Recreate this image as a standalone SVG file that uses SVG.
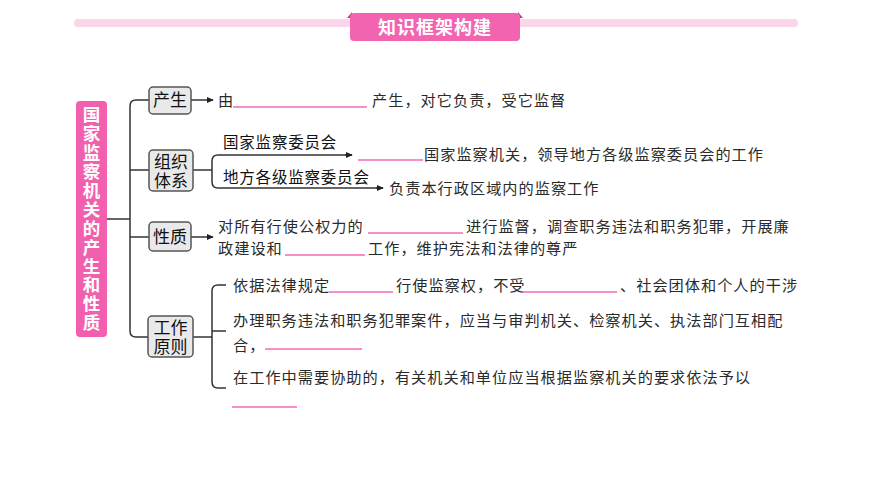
<svg xmlns="http://www.w3.org/2000/svg" width="870" height="489" viewBox="0 0 870 489">
<defs>
<style>
.ln{fill:none;stroke:#333;stroke-width:1.5}
.bl{stroke:#f06ab8;stroke-width:1.6}
.box{fill:#e9e9e9;stroke:#555;stroke-width:1.5}
.lab{font-family:"Noto Sans CJK SC",sans-serif;font-size:17px;fill:#111;text-anchor:middle}
.sub{font-family:"Noto Sans CJK SC",sans-serif;font-size:15.5px;fill:#111;letter-spacing:0.8px}
.t{font-family:"Noto Sans CJK SC",sans-serif;font-size:15.2px;fill:#2a2a2a;letter-spacing:1px}
</style>
<marker id="ar" viewBox="0 0 8 8" refX="7" refY="4" markerWidth="7" markerHeight="7" markerUnits="userSpaceOnUse" orient="auto">
<path d="M0,0.5 L8,4 L0,7.5 Z" fill="#222"/>
</marker>
</defs>
<rect width="870" height="489" fill="#fff"/>
<g id="header">
<rect x="74" y="19" width="724" height="8" rx="4" fill="#fbd6ea"/>
<path d="M347,18 L352,12 L352,18 Z" fill="#d0307f"/>
<path d="M523,18 L518,12 L518,18 Z" fill="#d0307f"/>
<rect x="350" y="13" width="170" height="28" rx="4" fill="#f263b0"/>
<text x="435" y="34" font-family="'Noto Sans CJK SC',sans-serif" font-size="18" font-weight="bold" fill="#fff" text-anchor="middle" letter-spacing="1">知识框架构建</text>
</g>
<g id="root">
<rect x="76" y="101" width="31" height="236" rx="4" fill="#f25fae"/>
<text x="91.5" y="106" writing-mode="vertical-rl" font-family="'Noto Sans CJK SC',sans-serif" font-size="17.5" font-weight="bold" fill="#fff" letter-spacing="1.4">国家监察机关的产生和性质</text>
</g>
<g id="connectors">
<path class="ln" d="M107,219 H130"/>
<path class="ln" d="M149,100 H136 Q130,100 130,106 V331 Q130,337 136,337 H148"/>
<path class="ln" d="M130,170 H149"/>
<path class="ln" d="M130,237 H149"/>
<path class="ln" d="M191,100 H213" marker-end="url(#ar)"/>
<path class="ln" d="M193,170 H212"/>
<path class="ln" d="M352,155 H218 Q212,155 212,161 V182 Q212,188 218,188 H383"/>
<path class="ln" d="M345,155 H352" marker-end="url(#ar)"/>
<path class="ln" d="M376,188 H383" marker-end="url(#ar)"/>
<path class="ln" d="M191,237 H213" marker-end="url(#ar)"/>
<path class="ln" d="M193,337 H212"/>
<path class="ln" d="M226,285 H218 Q212,285 212,291 V382 Q212,388 218,388 H226"/>
<path class="ln" d="M212,331 H226"/>
</g>
<g id="n-chansheng">
<rect class="box" x="149" y="87" width="42" height="27" rx="4"/>
<text class="lab" x="170" y="106">产生</text>
</g>
<g id="n-zuzhi">
<rect class="box" x="149" y="150" width="44" height="41" rx="4"/>
<text class="lab"><tspan x="171" y="168">组织</tspan><tspan x="171" y="187">体系</tspan></text>
</g>
<g id="n-xingzhi">
<rect class="box" x="149" y="222" width="42" height="29" rx="4"/>
<text class="lab" x="170" y="243">性质</text>
</g>
<g id="n-yuanze">
<rect class="box" x="148" y="316" width="45" height="41" rx="4"/>
<text class="lab"><tspan x="170.5" y="334">工作</tspan><tspan x="170.5" y="353">原则</tspan></text>
</g>
<g id="texts">
<text class="t" x="218" y="106">由</text>
<line class="bl" x1="233" y1="107" x2="367" y2="107"/>
<text class="t" x="372" y="106">产生，对它负责，受它监督</text>

<text class="sub" x="223" y="148">国家监察委员会</text>
<text class="sub" x="223" y="183">地方各级监察委员会</text>
<line class="bl" x1="358" y1="160" x2="423" y2="160"/>
<text class="t" x="424" y="160">国家监察机关，领导地方各级监察委员会的工作</text>
<text class="t" x="389" y="194">负责本行政区域内的监察工作</text>

<text class="t" x="218" y="232">对所有行使公权力的</text>
<line class="bl" x1="368" y1="233" x2="463" y2="233"/>
<text class="t" x="466" y="232">进行监督，调查职务违法和职务犯罪，开展廉</text>
<text class="t" x="218" y="254">政建设和</text>
<line class="bl" x1="285" y1="255" x2="365" y2="255"/>
<text class="t" x="368" y="254">工作，维护宪法和法律的尊严</text>

<text class="t" x="233" y="291">依据法律规定</text>
<line class="bl" x1="329" y1="292" x2="393" y2="292"/>
<text class="t" x="396" y="291">行使监察权，不受</text>
<line class="bl" x1="522" y1="292" x2="617" y2="292"/>
<text class="t" x="620" y="291">、社会团体和个人的干涉</text>
<text class="t" x="233" y="326">办理职务违法和职务犯罪案件，应当与审判机关、检察机关、执法部门互相配</text>
<text class="t" x="233" y="351">合，</text>
<line class="bl" x1="265" y1="349" x2="362" y2="349"/>
<text class="t" x="233" y="383">在工作中需要协助的，有关机关和单位应当根据监察机关的要求依法予以</text>
<line class="bl" x1="232" y1="407" x2="297" y2="407"/>
</g>
</svg>
